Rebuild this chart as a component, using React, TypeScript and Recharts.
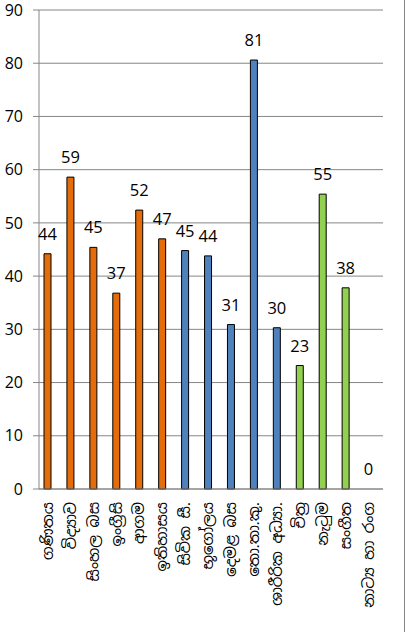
import React from 'react';
import { BarChart, Bar, XAxis, YAxis, CartesianGrid, Cell, LabelList } from 'recharts';

const categories = [
  'ගණිතය',
  'විද්‍යාව',
  'සිංහල බස',
  'ඉංග්‍රීසි',
  'ආගම',
  'ඉතිහාසය',
  'සිවික සී.',
  'භූගෝලය',
  'දෙමළ බස',
  'තො.තා.කු.',
  'ශාරීරික අධ්‍යා.',
  'චිත්‍ර',
  'නැටුම',
  'සංගීත',
  'නාට්‍ය හා රංග',
];

const values = [44.2, 58.6, 45.4, 36.8, 52.4, 47.0, 44.8, 43.8, 30.9, 80.6, 30.3, 23.2, 55.4, 37.8, 0];

const groups = ['core', 'core', 'core', 'core', 'core', 'core', 'basket1', 'basket1', 'basket1', 'basket1', 'basket1', 'basket2', 'basket2', 'basket2', 'basket2'];

const groupColors: Record<string, string> = {
  core: '#E46C0A',
  basket1: '#4F81BD',
  basket2: '#92D050',
};

const yTicks = [0, 10, 20, 30, 40, 50, 60, 70, 80, 90];

const data = categories.map((name, i) => ({
  name,
  value: values[i],
  group: groups[i],
  label: String(Math.round(values[i])),
}));

const NUM_FONT = "'Open Sans', 'Liberation Sans', sans-serif";
const SI_FONT = "'Noto Sans Sinhala', 'Iskoola Pota', 'Noto Sans', sans-serif";

const CategoryTick = (props: any) => {
  const { x, y, payload } = props;
  const ay = y + 13;
  return (
    <text
      x={x}
      y={ay}
      transform={`rotate(-90, ${x}, ${ay})`}
      textAnchor="end"
      dy="0.35em"
      fontSize={15}
      fontFamily={SI_FONT}
      fill="#000"
    >
      {payload.value}
    </text>
  );
};

export default function App() {
  return (
    <div style={{ position: 'absolute', left: 0, top: 0, width: 406, height: 632, background: '#fff', overflow: 'hidden' }}>
      <BarChart
        width={406}
        height={632}
        data={data}
        margin={{ top: 10, right: 23, bottom: 0, left: 0 }}
        barSize={7}
      >
        <CartesianGrid vertical={false} stroke="#868686" strokeWidth={1} />
        <XAxis
          dataKey="name"
          interval={0}
          height={143}
          tickLine={false}
          tickSize={0}
          tickMargin={0}
          padding={{ left: -3, right: 3 }}
          axisLine={{ stroke: '#868686' }}
          tick={<CategoryTick />}
        />
        <YAxis
          width={39}
          domain={[0, 90]}
          ticks={yTicks}
          interval={0}
          tickSize={6}
          tickMargin={10}
          axisLine={{ stroke: '#868686' }}
          tickLine={{ stroke: '#868686' }}
          tick={{ fill: '#000', fontSize: 16, fontFamily: NUM_FONT }}
        />
        <Bar dataKey="value" isAnimationActive={false} strokeWidth={1} minPointSize={0.01}>
          {data.map((d, i) => (
            <Cell
              key={i}
              fill={d.value === 0 ? 'none' : groupColors[d.group]}
              stroke={d.value === 0 ? 'none' : '#000'}
            />
          ))}
          <LabelList
            dataKey="label"
            position="top"
            offset={14}
            style={{ fill: '#000', fontSize: 16.5, fontFamily: NUM_FONT }}
          />
        </Bar>
      </BarChart>
      <div style={{ position: 'absolute', left: 404, top: 0, width: 1, height: 632, background: '#868686' }} />
    </div>
  );
}
